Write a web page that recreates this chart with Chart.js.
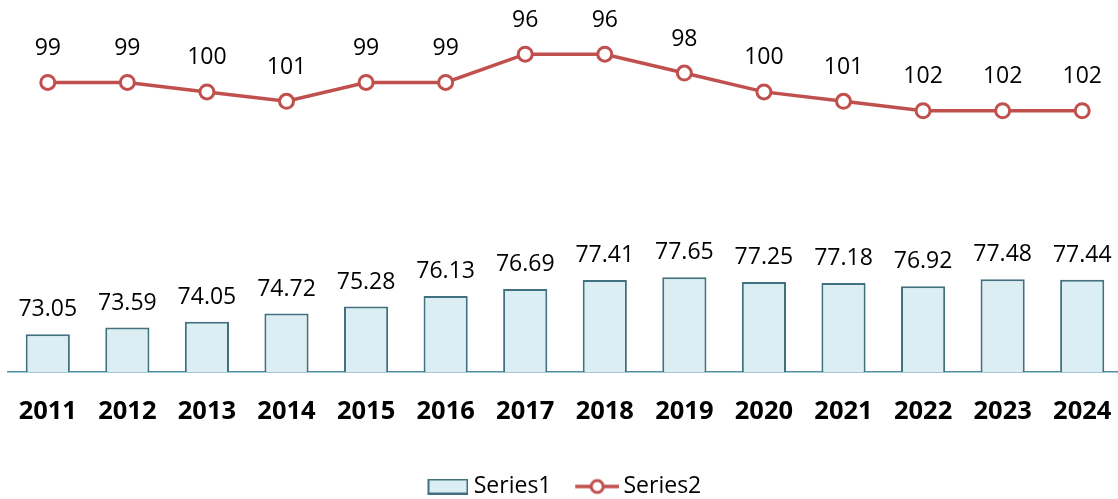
<!DOCTYPE html>
<html>
<head>
<meta charset="utf-8">
<script src="https://cdn.jsdelivr.net/npm/chart.js@4/dist/chart.umd.min.js"></script>
<style>
  html, body { margin: 0; padding: 0; background: #fff; overflow: hidden; width: 1118px; height: 499px; }
  #wrap { width: 1126px; height: 508px; }
</style>
</head>
<body>
<div id="wrap"><canvas id="c" width="1126" height="508"></canvas></div>
<script>
const categories = ['2011','2012','2013','2014','2015','2016','2017','2018','2019','2020','2021','2022','2023','2024'];
const series1 = [73.05, 73.59, 74.05, 74.72, 75.28, 76.13, 76.69, 77.41, 77.65, 77.25, 77.18, 76.92, 77.48, 77.44];
const series2 = [99, 99, 100, 101, 99, 99, 96, 96, 98, 100, 101, 102, 102, 102];
const seriesNames = ['Series1', 'Series2'];

const BAR_FILL = '#DAEEF3';
const BAR_BORDER = '#41717E';
const LINE_COLOR = '#C0504D';
const AXIS_COLOR = '#4E8FA0';
const FONT = '"Open Sans", "Noto Sans", sans-serif';

function barLegendImage() {
  const c = document.createElement('canvas');
  c.width = 46; c.height = 16;
  const g = c.getContext('2d');
  g.fillStyle = BAR_FILL;
  g.fillRect(6, 1, 39, 14);
  g.strokeStyle = BAR_BORDER;
  g.lineWidth = 2;
  g.strokeRect(6, 1, 39, 14);
  return c;
}
function lineLegendImage() {
  const c = document.createElement('canvas');
  c.width = 48; c.height = 20;
  const g = c.getContext('2d');
  g.strokeStyle = LINE_COLOR;
  g.lineWidth = 3.5;
  g.beginPath(); g.moveTo(4, 10); g.lineTo(48, 10); g.stroke();
  g.beginPath(); g.arc(26, 10, 6, 0, Math.PI * 2);
  g.fillStyle = '#fff'; g.fill();
  g.lineWidth = 3; g.stroke();
  return c;
}

const valueLabels = {
  id: 'valueLabels',
  afterDatasetsDraw(chart) {
    const ctx = chart.ctx;
    ctx.save();
    ctx.font = '23px ' + FONT;
    ctx.fillStyle = '#000';
    ctx.textAlign = 'center';
    ctx.textBaseline = 'middle';
    chart.data.datasets.forEach((ds, i) => {
      const meta = chart.getDatasetMeta(i);
      const isLine = ds.type === 'line';
      const off = isLine ? 34 : 24.5;
      meta.data.forEach((el, j) => {
        const v = ds.data[j];
        ctx.fillText(isLine ? String(v) : v.toFixed(2), el.x, el.y - off);
      });
    });
    ctx.restore();
  }
};

const barImg = barLegendImage();
const lineImg = lineLegendImage();

new Chart(document.getElementById('c'), {
  data: {
    labels: categories,
    datasets: [
      {
        type: 'bar',
        label: seriesNames[0],
        data: series1,
        yAxisID: 'y',
        backgroundColor: BAR_FILL,
        borderColor: BAR_BORDER,
        borderWidth: 2,
        borderSkipped: false,
        barPercentage: 0.555,
        categoryPercentage: 1.0,
        order: 2
      },
      {
        type: 'line',
        label: seriesNames[1],
        data: series2,
        yAxisID: 'y2',
        borderColor: LINE_COLOR,
        borderWidth: 3.5,
        pointStyle: 'circle',
        pointRadius: 7,
        pointHoverRadius: 7,
        pointBackgroundColor: '#fff',
        pointBorderColor: LINE_COLOR,
        pointBorderWidth: 3,
        tension: 0,
        clip: false,
        order: 1
      }
    ]
  },
  options: {
    responsive: false,
    animation: false,
    devicePixelRatio: 1,
    layout: { autoPadding: false, padding: { left: 8, right: 4, top: 0, bottom: 0 } },
    plugins: {
      tooltip: { enabled: false },
      legend: {
        position: 'bottom',
        labels: {
          usePointStyle: true,
          pointStyleWidth: 33.5,
          padding: 27,
          color: '#000',
          font: { family: FONT, size: 23 },
          generateLabels(chart) {
            return chart.data.datasets.map((ds, i) => ({
              text: ds.label,
              pointStyle: i === 0 ? barImg : lineImg,
              fillStyle: 'transparent',
              strokeStyle: 'transparent',
              lineWidth: 0,
              hidden: false,
              datasetIndex: i
            }));
          }
        }
      }
    },
    scales: {
      x: {
        z: 1,
        grid: { display: false, drawTicks: false },
        border: { display: true, color: AXIS_COLOR, width: 1.5 },
        ticks: {
          color: '#000',
          padding: 24.5,
          font: { family: FONT, size: 25.5, weight: 'bold' }
        },
        afterFit(scale) {
          scale.height = 76;
          scale.paddingLeft = 0;
          scale.paddingRight = 0;
        }
      },
      y: {
        display: false,
        min: 70,
        max: 100
      },
      y2: {
        display: false,
        reverse: true,
        min: 90.25,
        max: 129.72
      }
    }
  },
  plugins: [valueLabels]
});
</script>
</body>
</html>
